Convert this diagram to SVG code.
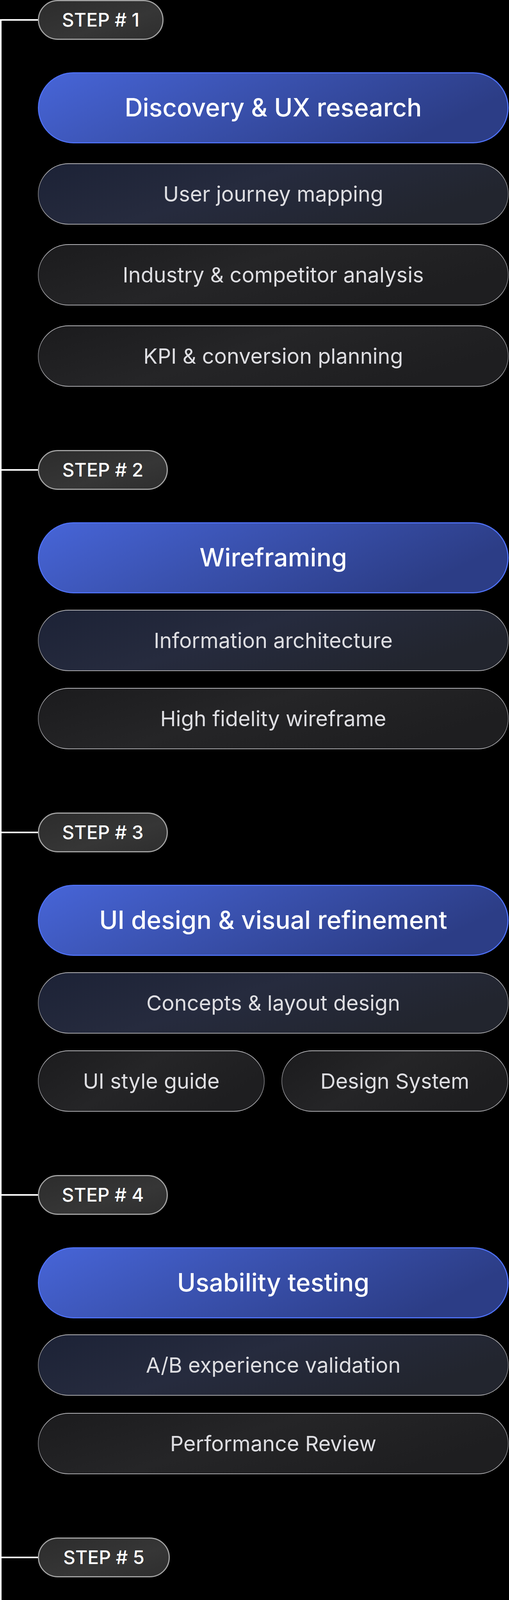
<svg xmlns="http://www.w3.org/2000/svg" width="1304" height="4704" viewBox="0 0 1304 4704">
<defs>
<linearGradient id="gBlue" x1="0" y1="0" x2="1" y2="0.3">
<stop offset="0" stop-color="#4765d8"/>
<stop offset="0.45" stop-color="#3b53b2"/>
<stop offset="1" stop-color="#2c3d86"/>
</linearGradient>
<linearGradient id="gNavy" x1="0" y1="0" x2="1" y2="0.4">
<stop offset="0" stop-color="#1c2236"/>
<stop offset="0.5" stop-color="#262b3e"/>
<stop offset="1" stop-color="#22252e"/>
</linearGradient>
<linearGradient id="gGray" x1="0" y1="0" x2="1" y2="0.4">
<stop offset="0" stop-color="#1b1b1d"/>
<stop offset="0.5" stop-color="#252527"/>
<stop offset="1" stop-color="#1e1e20"/>
</linearGradient>
<linearGradient id="gStep" x1="0" y1="0" x2="1" y2="1">
<stop offset="0" stop-color="#2c2c2c"/>
<stop offset="0.6" stop-color="#363636"/>
<stop offset="1" stop-color="#2e2e2e"/>
</linearGradient>
<linearGradient id="gEdge" x1="0" y1="0" x2="0" y2="1">
<stop offset="0" stop-color="#b4b4b8"/>
<stop offset="0.5" stop-color="#6c6c70"/>
<stop offset="1" stop-color="#a8a8ac"/>
</linearGradient>
</defs>
<style>
.step rect{fill:url(#gStep);stroke:#a2a2a2;stroke-width:3}
.main rect{fill:url(#gBlue);stroke:#4d6ff2;stroke-width:3}
.navy rect{fill:url(#gNavy);stroke:url(#gEdge);stroke-width:2}
.gray rect{fill:url(#gGray);stroke:url(#gEdge);stroke-width:2}
text{font-family:Inter,"Noto Sans","Liberation Sans",sans-serif;text-anchor:middle}
.step text{font-size:48px;font-weight:500;fill:#ffffff}
.main text{font-size:64px;font-weight:500;fill:#ffffff}
.navy text,.gray text{font-size:54px;font-weight:400;fill:#dedee2}
.conn{fill:none;stroke:#ffffff;stroke-width:4}
</style>
<rect width="1304" height="4704" fill="#000000"/>
<g id="connectors">
<path class="conn" d="M2 50 V4704 M0 51 H98 M0 1203 H98 M0 2131 H98 M0 3059 H98 M0 3987 H98"/>
</g>
<!-- STEP 1 -->
<g id="step1" class="step"><rect x="98.5" y="1.5" width="319" height="99" rx="49.5"/><text x="258" y="68">STEP # 1</text></g>
<g id="discovery" class="main"><rect x="98.5" y="186.5" width="1203" height="179" rx="89.5"/><text x="700" y="298">Discovery &amp; UX research</text></g>
<g id="journey" class="navy"><rect x="98" y="419" width="1204" height="155" rx="77.5"/><text x="700" y="516">User journey mapping</text></g>
<g id="industry" class="gray"><rect x="98" y="626" width="1204" height="155" rx="77.5"/><text x="700" y="723">Industry &amp; competitor analysis</text></g>
<g id="kpi" class="gray"><rect x="98" y="834" width="1204" height="155" rx="77.5"/><text x="700" y="931">KPI &amp; conversion planning</text></g>
<!-- STEP 2 -->
<g id="step2" class="step"><rect x="98.5" y="1153.5" width="330" height="99" rx="49.5"/><text x="263.5" y="1220">STEP # 2</text></g>
<g id="wireframing" class="main"><rect x="98.5" y="1338.5" width="1203" height="179" rx="89.5"/><text x="700" y="1450">Wireframing</text></g>
<g id="infoarch" class="navy"><rect x="98" y="1562" width="1204" height="155" rx="77.5"/><text x="700" y="1659">Information architecture</text></g>
<g id="hifi" class="gray"><rect x="98" y="1762" width="1204" height="155" rx="77.5"/><text x="700" y="1859">High fidelity wireframe</text></g>
<!-- STEP 3 -->
<g id="step3" class="step"><rect x="98.5" y="2081.5" width="330" height="99" rx="49.5"/><text x="263.5" y="2148">STEP # 3</text></g>
<g id="uidesign" class="main"><rect x="98.5" y="2266.5" width="1203" height="179" rx="89.5"/><text x="700" y="2378">UI design &amp; visual refinement</text></g>
<g id="concepts" class="navy"><rect x="98" y="2490" width="1204" height="155" rx="77.5"/><text x="700" y="2587">Concepts &amp; layout design</text></g>
<g id="styleguide" class="gray"><rect x="98" y="2690" width="579" height="155" rx="77.5"/><text x="387.5" y="2787">UI style guide</text></g>
<g id="designsystem" class="gray"><rect x="722" y="2690" width="579" height="155" rx="77.5"/><text x="1011.5" y="2787">Design System</text></g>
<!-- STEP 4 -->
<g id="step4" class="step"><rect x="98.5" y="3009.5" width="330" height="99" rx="49.5"/><text x="263.5" y="3076">STEP # 4</text></g>
<g id="usability" class="main"><rect x="98.5" y="3194.5" width="1203" height="179" rx="89.5"/><text x="700" y="3306">Usability testing</text></g>
<g id="abtest" class="navy"><rect x="98" y="3417" width="1204" height="155" rx="77.5"/><text x="700" y="3514">A/B experience validation</text></g>
<g id="performance" class="gray"><rect x="98" y="3618" width="1204" height="155" rx="77.5"/><text x="700" y="3715">Performance Review</text></g>
<!-- STEP 5 -->
<g id="step5" class="step"><rect x="98.5" y="3937.5" width="335" height="99" rx="49.5"/><text x="266" y="4004">STEP # 5</text></g>
<g id="handoff" class="main"><rect x="98.5" y="4122.5" width="1203" height="179" rx="89.5"/><text x="700" y="4234">Handoff to Development</text></g>
<g id="techdoc" class="navy"><rect x="98" y="4346" width="1204" height="155" rx="77.5"/><text x="700" y="4443">Technical Documentation</text></g>
<g id="deploy" class="gray"><rect x="98" y="4546" width="1204" height="155" rx="77.5"/><text x="700" y="4643">Deployment &amp; QA</text></g>
</svg>
